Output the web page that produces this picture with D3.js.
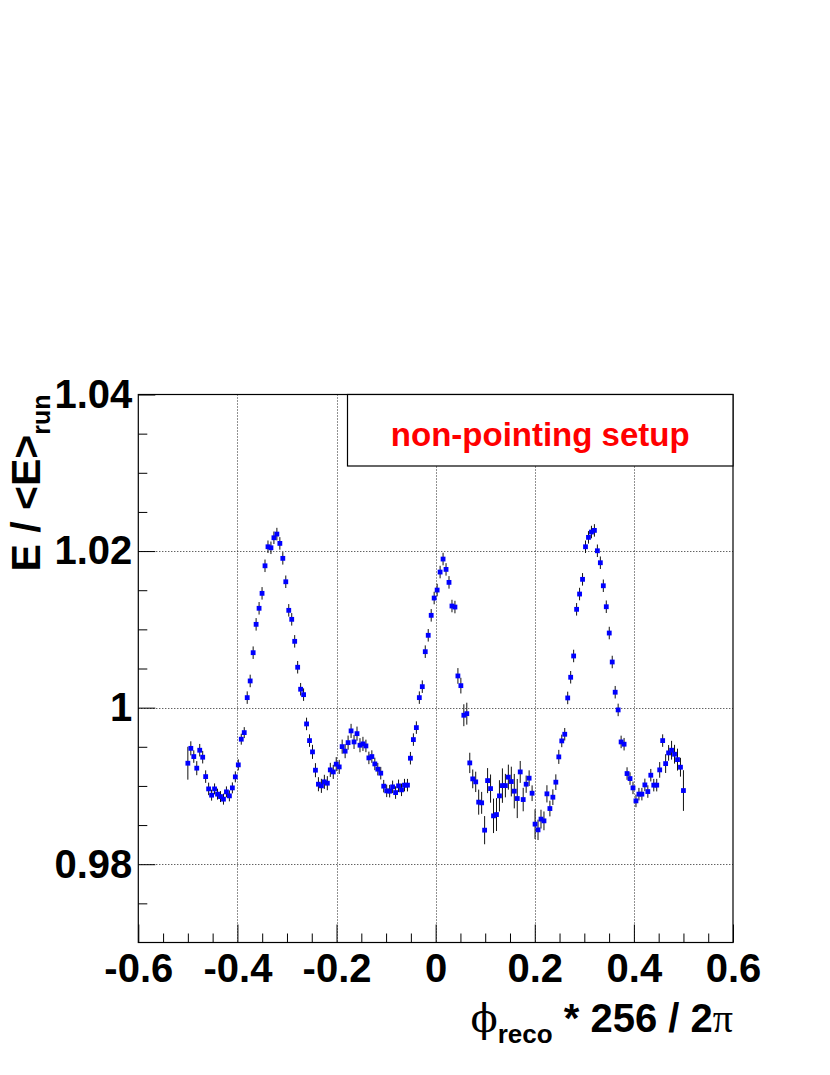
<!DOCTYPE html>
<html>
<head>
<meta charset="utf-8">
<script src="https://cdn.jsdelivr.net/npm/d3@7"></script>
<style>
  body { margin: 0; background: #fff; }
  text { font-family: "Liberation Sans", Arial, sans-serif; font-weight: bold; }
</style>
</head>
<body>
<div id="chart"></div>
<script>
// profile: E / <E>_run vs phi_reco * 256 / 2pi (168 bins between -0.5 and 0.5)
const phiMin = -0.5, phiMax = 0.5, nBins = 168;

const ratio = [
  0.9929, 0.9948, 0.99375, 0.99227, 0.99456, 0.99367, 0.99119, 0.98962, 0.98882, 0.98962,
  0.98895, 0.98864, 0.98831, 0.98924, 0.98873, 0.98975, 0.99116, 0.99269, 0.99597, 0.99681,
  1.00128, 1.00341, 1.00702, 1.01064, 1.01269, 1.0146, 1.01812, 1.02055, 1.02042, 1.0217,
  1.02217, 1.02098, 1.01907, 1.01608, 1.01243, 1.01128, 1.00847, 1.00516, 1.00235, 1.00166,
  0.99792, 0.99579, 0.99435, 0.99201, 0.99022, 0.99001, 0.99052, 0.99035, 0.99205, 0.99179,
  0.99278, 0.99243, 0.99502, 0.99444, 0.99553, 0.99703, 0.99562, 0.99668, 0.9952, 0.99537,
  0.99511, 0.99358, 0.99375, 0.99281, 0.99214, 0.99163, 0.98997, 0.98937, 0.98933, 0.98988,
  0.98915, 0.99001, 0.9895, 0.9901, 0.9901, 0.99354, 0.99592, 0.99745, 1.00128, 1.00268,
  1.00715, 1.00924, 1.01179, 1.014, 1.01502, 1.01732, 1.01898, 1.01766, 1.016, 1.01298,
  1.01285, 1.00405, 1.00281, 0.99903, 0.99923, 0.99294, 0.9909, 0.99052, 0.98793, 0.98784,
  0.98435, 0.99068, 0.98966, 0.98618, 0.98634, 0.98873, 0.99004, 0.99004, 0.99112, 0.99056,
  0.98933, 0.98839, 0.99179, 0.98826, 0.99022, 0.99099, 0.98907, 0.98512, 0.98439, 0.98576,
  0.98554, 0.98899, 0.98711, 0.98856, 0.99048, 0.99371, 0.99575, 0.9966, 1.00124, 1.00388,
  1.0066, 1.01256, 1.01451, 1.01639, 1.02055, 1.02175, 1.02243, 1.02264, 1.02004, 1.01851,
  1.01557, 1.01289, 1.00953, 1.00583, 1.00197, 0.99971, 0.99562, 0.99533, 0.99158, 0.99094,
  0.98975, 0.98809, 0.98895, 0.98895, 0.99013, 0.98928, 0.99137, 0.9901, 0.9901, 0.99205,
  0.99579, 0.99285, 0.99422, 0.99456, 0.99405, 0.99336, 0.99239, 0.98941
];

const ratioErr = [
  0.0021, 0.0009, 0.0008, 0.0009, 0.0008, 0.0008, 0.0008, 0.0008, 0.0007, 0.0007,
  0.0007, 0.0007, 0.0007, 0.0007, 0.0007, 0.0007, 0.0007, 0.0007, 0.0007, 0.0007,
  0.0008, 0.0008, 0.0008, 0.0008, 0.0008, 0.0008, 0.0008, 0.0008, 0.0008, 0.0008,
  0.0008, 0.0008, 0.0008, 0.0008, 0.0008, 0.0008, 0.0008, 0.0008, 0.0008, 0.0008,
  0.0008, 0.0008, 0.0009, 0.0009, 0.0009, 0.0009, 0.0009, 0.0009, 0.0009, 0.0009,
  0.0009, 0.0009, 0.0009, 0.0009, 0.0009, 0.0009, 0.0009, 0.0009, 0.0009, 0.0009,
  0.0008, 0.0008, 0.0008, 0.0008, 0.0008, 0.0008, 0.0008, 0.0008, 0.0008, 0.0008,
  0.0008, 0.0008, 0.0008, 0.0008, 0.0008, 0.0008, 0.0008, 0.0008, 0.0008, 0.0008,
  0.0008, 0.0008, 0.0008, 0.0008, 0.0008, 0.0008, 0.0008, 0.0008, 0.0008, 0.0008,
  0.0008, 0.001, 0.001, 0.0014, 0.0014, 0.0013, 0.0012, 0.0013, 0.0016, 0.0014,
  0.0018, 0.0016, 0.0018, 0.0022, 0.0021, 0.002, 0.0022, 0.0015, 0.0016, 0.0019,
  0.0022, 0.0025, 0.0014, 0.0015, 0.0011, 0.001, 0.001, 0.0019, 0.0013, 0.0012,
  0.0012, 0.0011, 0.001, 0.001, 0.001, 0.0009, 0.0008, 0.0008, 0.0008, 0.0008,
  0.0008, 0.0008, 0.0008, 0.0008, 0.0008, 0.0008, 0.0008, 0.0008, 0.0008, 0.0008,
  0.0008, 0.0008, 0.0008, 0.0008, 0.0008, 0.0008, 0.0008, 0.0008, 0.0008, 0.0008,
  0.0008, 0.0008, 0.0008, 0.0008, 0.0008, 0.0008, 0.0008, 0.0008, 0.0008, 0.001,
  0.0008, 0.0012, 0.001, 0.0012, 0.0012, 0.0014, 0.0012, 0.0026
];

const xMajor = [-0.6, -0.4, -0.2, 0, 0.2, 0.4, 0.6];
const yMajor = [0.98, 1.0, 1.02, 1.04];
const legendText = "non-pointing setup";

// bin centres of the profile
const step = (phiMax - phiMin) / (nBins - 1);
const data = ratio.map((v, i) => ({ x: phiMin + i * step, y: v, e: ratioErr[i] }));

const W = 830, H = 1075;
const frame = { left: 138.3, right: 733, top: 394.5, bottom: 942.5 };

const svg = d3.select("#chart").append("svg")
  .attr("width", W).attr("height", H)
  .style("background", "#fff");

const x = d3.scaleLinear().domain([-0.6, 0.6]).range([frame.left, frame.right]);
const y = d3.scaleLinear().domain([0.97, 1.04]).range([frame.bottom, frame.top]);

const fmt = d => String(+d.toFixed(2));

// grid (dotted)
const grid = svg.append("g").attr("stroke", "#222").attr("stroke-width", 1).attr("stroke-dasharray", "1,2");
grid.selectAll("line.gx").data(xMajor.slice(1, -1)).join("line")
  .attr("x1", d => Math.round(x(d)) + 0.5).attr("x2", d => Math.round(x(d)) + 0.5)
  .attr("y1", frame.top).attr("y2", frame.bottom);
grid.selectAll("line.gy").data(yMajor.slice(0, -1)).join("line")
  .attr("y1", d => Math.round(y(d)) + 0.5).attr("y2", d => Math.round(y(d)) + 0.5)
  .attr("x1", frame.left).attr("x2", frame.right);

// x axis: major + minor ticks pointing inward
const xAxis = svg.append("g").attr("transform", `translate(0,${frame.bottom})`)
  .call(d3.axisBottom(x).tickValues(xMajor).tickSize(-18).tickPadding(11).tickFormat(fmt));
svg.append("g").attr("transform", `translate(0,${frame.bottom})`)
  .call(d3.axisBottom(x).tickValues(d3.range(-0.55, 0.56, 0.1).concat(d3.range(-0.5, 0.51, 0.2)))
    .tickSize(-9).tickFormat(""));

// y axis
const yAxis = svg.append("g").attr("transform", `translate(${frame.left},0)`)
  .call(d3.axisLeft(y).tickValues(yMajor).tickSize(-17).tickPadding(6).tickFormat(fmt));
svg.append("g").attr("transform", `translate(${frame.left},0)`)
  .call(d3.axisLeft(y).tickValues([0.975, 0.985, 0.99, 0.995, 1.005, 1.01, 1.015, 1.025, 1.03, 1.035])
    .tickSize(-9).tickFormat(""));

svg.selectAll(".domain").remove();
svg.selectAll(".tick line").attr("stroke", "#000");
[xAxis, yAxis].forEach(a => a.selectAll("text")
  .attr("fill", "#000")
  .style("font-family", "'Liberation Sans', Arial, sans-serif")
  .style("font-weight", "bold")
  .style("font-size", "40px"));

// frame
svg.append("rect")
  .attr("x", frame.left).attr("y", frame.top)
  .attr("width", frame.right - frame.left).attr("height", frame.bottom - frame.top)
  .attr("fill", "none").attr("stroke", "#000").attr("stroke-width", 1.2);

// error bars
svg.append("g").selectAll("line").data(data).join("line")
  .attr("x1", d => x(d.x)).attr("x2", d => x(d.x))
  .attr("y1", d => y(d.y - d.e)).attr("y2", d => y(d.y + d.e))
  .attr("stroke", "#111").attr("stroke-width", 1);

// markers
const ms = 4.8;
svg.append("g").selectAll("rect").data(data).join("rect")
  .attr("x", d => x(d.x) - ms / 2).attr("y", d => y(d.y) - ms / 2)
  .attr("width", ms).attr("height", ms)
  .attr("fill", "#0000ff");

// legend box
svg.append("rect")
  .attr("x", 347.5).attr("y", frame.top).attr("width", frame.right - 347.5).attr("height", 71.5)
  .attr("fill", "#fff").attr("stroke", "#000").attr("stroke-width", 1.2);
svg.append("text")
  .attr("x", (347.5 + frame.right) / 2).attr("y", 446)
  .attr("text-anchor", "middle").attr("fill", "#ff0000")
  .style("font-size", "33px")
  .text(legendText);

// x title
const xt = svg.append("text")
  .attr("x", frame.right).attr("y", 1032)
  .attr("text-anchor", "end").style("font-size", "40px");
xt.append("tspan").style("font-family", "'DejaVu Serif', 'Liberation Serif', serif").style("font-weight", "normal").text("\u03d5");
xt.append("tspan").attr("dy", 11).style("font-size", "26px").text("reco");
xt.append("tspan").attr("dy", -11).text(" * 256 / 2");
xt.append("tspan").style("font-family", "'Liberation Serif', serif").style("font-weight", "normal").text("\u03c0");

// y title
const yt = svg.append("text")
  .attr("transform", `translate(40,${frame.top}) rotate(-90)`)
  .attr("text-anchor", "end").style("font-size", "41px");
yt.append("tspan").text("E / <E>");
yt.append("tspan").attr("dy", 10).style("font-size", "25px").text("run");
</script>
</body>
</html>
